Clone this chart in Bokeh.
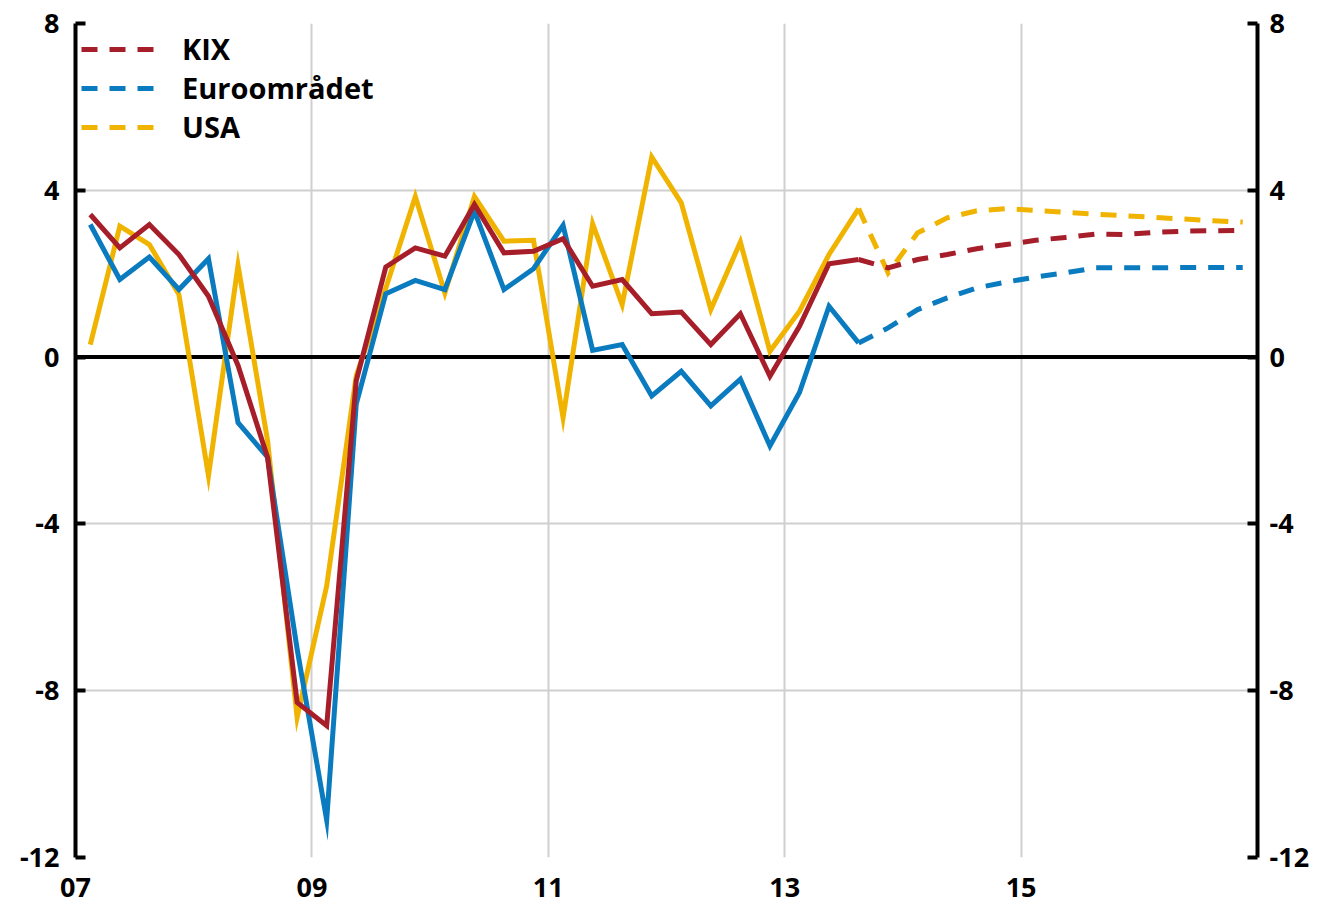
from bokeh.plotting import figure
from bokeh.models import LinearAxis, FixedTicker, Span, Legend, LegendItem, Range1d
from bokeh.embed import file_html
from bokeh.resources import INLINE

# Quarterly observations 2007Q1 - 2016Q4 (forecast from 2013Q3)
quarters = [f"{y}Q{q}" for y in range(2007, 2017) for q in range(1, 5)]
forecast_start = "2013Q3"

kix = [3.42, 2.62, 3.18, 2.46, 1.46, -0.20, -2.41, -8.28, -8.84, -0.57,
       2.16, 2.62, 2.42, 3.66, 2.50, 2.54, 2.84, 1.70, 1.86, 1.04,
       1.08, 0.30, 1.04, -0.46, 0.74, 2.24, 2.34, 2.14, 2.34, 2.46,
       2.60, 2.70, 2.80, 2.87, 2.95, 2.94, 2.99, 3.02, 3.03, 3.04]
euro = [3.18, 1.86, 2.40, 1.62, 2.36, -1.57, -2.40, -7.00, -11.10, -1.13,
        1.52, 1.84, 1.62, 3.50, 1.62, 2.12, 3.16, 0.16, 0.30, -0.93,
        -0.34, -1.17, -0.53, -2.13, -0.85, 1.22, 0.34, 0.70, 1.14, 1.42,
        1.66, 1.80, 1.92, 2.02, 2.14, 2.14, 2.14, 2.15, 2.15, 2.15]
usa = [0.30, 3.14, 2.70, 1.50, -2.85, 2.20, -2.00, -8.64, -5.49, -0.45,
       1.65, 3.85, 1.54, 3.85, 2.78, 2.80, -1.45, 3.20, 1.26, 4.80,
       3.70, 1.14, 2.76, 0.14, 1.10, 2.46, 3.56, 2.02, 2.98, 3.34,
       3.51, 3.56, 3.52, 3.47, 3.43, 3.39, 3.35, 3.31, 3.27, 3.24]

x_ticks = [2007, 2009, 2011, 2013, 2015]
x_tick_labels = ["07", "09", "11", "13", "15"]
y_ticks = [-12, -8, -4, 0, 4, 8]
y_tick_labels = ["-12", "-8", "-4", "0", "4", "8"]

x = [int(s[:4]) + (int(s[5]) - 0.5) / 4 for s in quarters]
k = quarters.index(forecast_start)

RED = "#a61e2a"
BLUE = "#0a7bbf"
YELLOW = "#f0b400"
FONT = "Open Sans"

p = figure(width=1322, height=907, x_range=Range1d(2007, 2017), y_range=Range1d(-12, 8),
           output_backend="svg", toolbar_location=None,
           min_border_left=75, min_border_right=65, min_border_top=23, min_border_bottom=50)
p.outline_line_color = None
p.background_fill_color = "white"

# grids
p.xgrid.ticker = FixedTicker(ticks=x_ticks)
p.ygrid.ticker = FixedTicker(ticks=[-12, -8, -4, 4, 8])
for g in (p.xgrid, p.ygrid):
    g.grid_line_color = "#cfcfcf"
    g.grid_line_width = 2

zero = Span(location=0, dimension="width", line_color="black", line_width=4, level="underlay")
p.add_layout(zero)

# x axis
xa = p.xaxis[0]
xa.ticker = FixedTicker(ticks=x_ticks)
xa.major_label_overrides = dict(zip(x_ticks, x_tick_labels))
xa.axis_line_color = None
xa.major_tick_line_color = None
xa.minor_tick_line_color = None
xa.major_label_standoff = 14
xa.major_label_text_font = FONT
xa.major_label_text_font_style = "bold"
xa.major_label_text_font_size = "27px"
xa.major_label_text_color = "black"

def style_y(ax, standoff):
    ax.ticker = FixedTicker(ticks=y_ticks)
    ax.major_label_overrides = dict(zip(y_ticks, y_tick_labels))
    ax.axis_line_color = "black"
    ax.axis_line_width = 4
    ax.major_tick_line_color = "black"
    ax.major_tick_line_width = 4
    ax.major_tick_in = 10
    ax.major_tick_out = 0
    ax.minor_tick_line_color = None
    ax.major_label_standoff = standoff
    ax.major_label_text_font = FONT
    ax.major_label_text_font_style = "bold"
    ax.major_label_text_font_size = "27px"
    ax.major_label_text_color = "black"

style_y(p.yaxis[0], 16)
ry = LinearAxis()
style_y(ry, 12)
p.add_layout(ry, "right")

series = [(usa, YELLOW, "USA"), (euro, BLUE, "Euroområdet"), (kix, RED, "KIX")]
dashed = {}
for vals, col, name in series:
    p.line(x[:k + 1], vals[:k + 1], line_color=col, line_width=5, line_join="miter")
    dashed[name] = p.line(x[k:], vals[k:], line_color=col, line_width=5,
                          line_dash="16 12", line_join="miter")

legend = Legend(items=[LegendItem(label="KIX", renderers=[dashed["KIX"]]),
                       LegendItem(label="Euroområdet", renderers=[dashed["Euroområdet"]]),
                       LegendItem(label="USA", renderers=[dashed["USA"]])],
                location="top_left")
legend.background_fill_alpha = 0
legend.border_line_color = None
legend.margin = 6
legend.padding = 0
legend.glyph_width = 75
legend.glyph_height = 30
legend.label_height = 30
legend.spacing = 0
legend.label_standoff = 26
legend.label_text_font = FONT
legend.label_text_font_style = "bold"
legend.label_text_font_size = "29px"
legend.label_text_color = "black"
p.add_layout(legend)

open("out.html", "w").write(file_html(p, INLINE))
